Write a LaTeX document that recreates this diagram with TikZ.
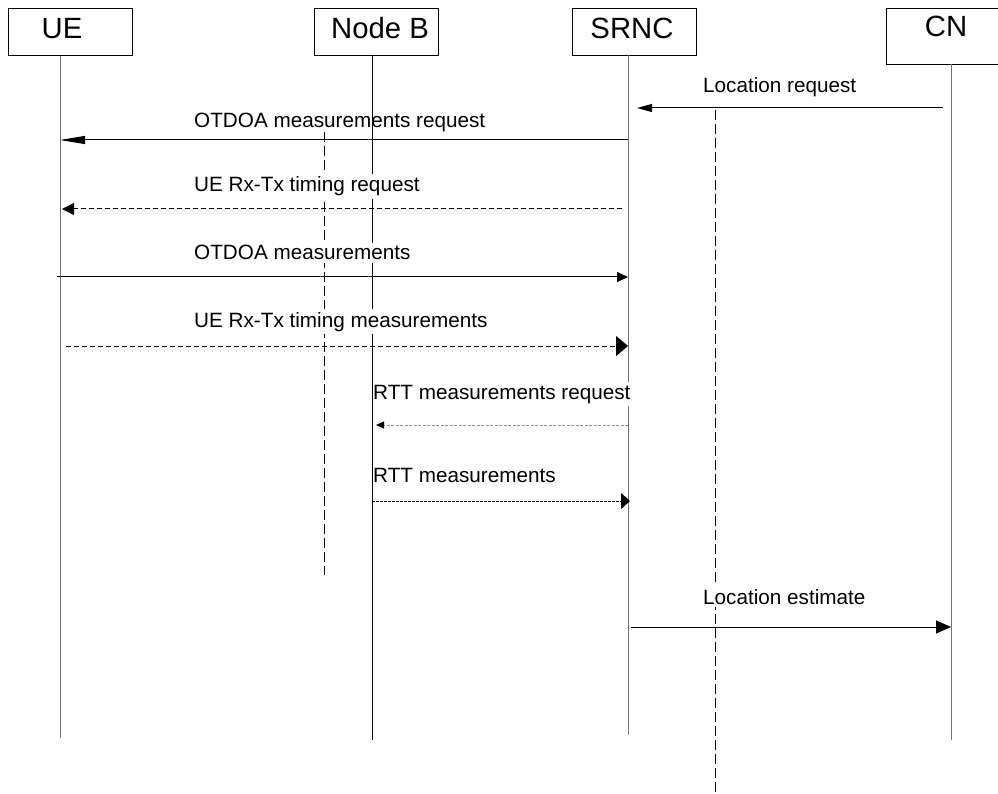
\documentclass[tikz,border=0pt]{standalone}
\usepackage{fontspec}
\setmainfont{Liberation Sans}
\usetikzlibrary{arrows.meta}
\begin{document}
\begin{tikzpicture}[x=1pt,y=-1pt,
  hbox/.style={draw,line width=0.8pt,inner sep=0pt,minimum width=124pt,minimum height=47pt},
  htext/.style={anchor=base,inner sep=0pt,font=\fontsize{29.3}{31}\selectfont},
  lbl/.style={anchor=base west,inner xsep=0pt,inner ysep=3pt,fill=white,font=\fontsize{20.7}{23}\selectfont},
  life/.style={line width=1pt,draw=black!55},
  guide/.style={line width=1pt,dash pattern=on 10pt off 4pt},
  msg/.style={line width=1pt},
  dsh/.style={msg,dash pattern=on 5pt off 3pt},
]
\path[use as bounding box] (0,0) rectangle (998,794);
\clip (0,0) rectangle (998,794);

% header boxes
\node[hbox] (ue) at (70,32) {};
\node[hbox] (nb) at (376,31.5) {};
\node[hbox] (sr) at (634,31.5) {};
\node[hbox,minimum height=56pt] (cn) at (948,36) {};
\node[htext] (uet) at (62,39) {UE};
\node[htext] (nbt) at (380,39) {Node B};
\node[htext] (srt) at (632,39) {SRNC};
\node[htext] (cnt) at (946,37) {CN};

% lifelines
\coordinate (ueA) at (60,56);   \coordinate (ueZ) at (60,738);
\coordinate (nbA) at (372,55);  \coordinate (nbZ) at (372,740);
\coordinate (srA) at (628,55);  \coordinate (srZ) at (628,735);
\coordinate (cnA) at (951,64);  \coordinate (cnZ) at (951,740);
\draw[life] (ueA) -- (ueZ);
\draw[msg] (nbA) -- (nbZ);
\draw[life] (srA) -- (srZ);
\draw[life] (cnA) -- (cnZ);

% dashed guides
\coordinate (g1A) at (324,132); \coordinate (g1Z) at (324,575);
\coordinate (g2A) at (715,110); \coordinate (g2Z) at (715,792);
\draw[guide] (g1A) -- (g1Z);
\draw[guide] (g2A) -- (g2Z);

% labels
\node[lbl] (l1) at (703,93) {Location request};
\node[lbl,fill=none] (l2) at (194,128) {OTDOA measurements request};
\node[lbl] (l3) at (194,192) {UE Rx-Tx timing request};
\node[lbl] (l4) at (194,260) {OTDOA measurements};
\node[lbl] (l5) at (194,327) {UE Rx-Tx timing measurements};
\node[lbl] (l6) at (373,399) {RTT measurements request};
\node[lbl] (l7) at (373,482) {RTT measurements};
\node[lbl] (l8) at (703,604) {Location estimate};

% messages
\coordinate (m1s) at (943,108); \coordinate (m1e) at (637,108);
\draw[msg,-{Triangle[length=15pt,width=8pt]}] (m1s) -- (m1e);
\coordinate (m2s) at (628,140); \coordinate (m2e) at (60,140);
\draw[msg,-{Triangle[length=25pt,width=8pt]}] (m2s) -- (m2e);
\coordinate (m3s) at (622,209); \coordinate (m3e) at (62,209);
\draw[dsh,-{Triangle[length=12pt,width=12pt]}] (m3s) -- (m3e);
\coordinate (m4s) at (57,277); \coordinate (m4e) at (628,277);
\draw[msg,-{Triangle[length=11pt,width=10pt]}] (m4s) -- (m4e);
\coordinate (m5s) at (66,346); \coordinate (m5e) at (628,346);
\draw[dsh,-{Triangle[length=12pt,width=20pt]}] (m5s) -- (m5e);
\coordinate (m6s) at (628,425); \coordinate (m6e) at (376,425);
\draw[msg,draw=black!45,dash pattern=on 3pt off 1.5pt,-{Triangle[length=8pt,width=7pt,color=black]}] (m6s) -- (m6e);
\coordinate (m7s) at (372,501); \coordinate (m7e) at (630,501);
\draw[msg,dash pattern=on 3pt off 1pt,-{Triangle[length=9pt,width=16pt]}] (m7s) -- (m7e);
\coordinate (m8s) at (631,627); \coordinate (m8e) at (951,627);
\draw[msg,-{Triangle[length=15pt,width=13pt]}] (m8s) -- (m8e);
\end{tikzpicture}
\end{document}
